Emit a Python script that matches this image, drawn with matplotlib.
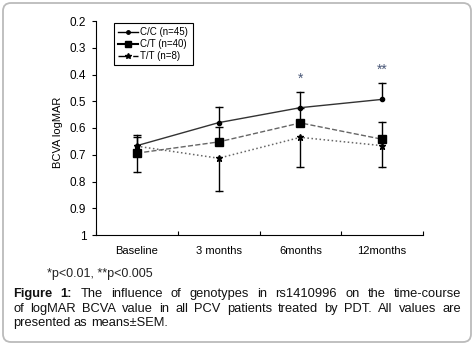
import matplotlib
matplotlib.use("Agg")
import matplotlib.pyplot as plt
from matplotlib.lines import Line2D
from matplotlib.patches import FancyBboxPatch
from matplotlib.ticker import FormatStrFormatter

plt.rcParams['font.family'] = ['Liberation Sans', 'DejaVu Sans']

# data (logMAR, smaller is better); err sign = direction of the SEM bar
times = ['Baseline', '3 months', '6months', '12months']
cc = [0.666, 0.580, 0.524, 0.493]
cc_err = [-0.040, -0.057, -0.057, -0.063]
ct = [0.694, 0.652, 0.581, 0.642]
ct_err = [0.070, -0.057, -0.057, -0.063]
tt = [0.668, 0.713, 0.635, 0.666]
tt_err = [-0.034, 0.121, 0.110, 0.081]
signif = {2: '*', 3: '**'}
signif_y = {2: 0.417, 3: 0.383}

fig = plt.figure(figsize=(4.74, 3.45), dpi=100)
ax = fig.add_axes([96/474, 1-235/345, 327/474, 214/345])

x = list(range(len(times)))


def one_sided(ax, x, y, err):
    for xi, yi, e in zip(x, y, err):
        ax.plot([xi, xi], [yi, yi + e], color='black', lw=1, zorder=2)
        ax.plot([xi], [yi + e], marker='_', ms=6, mew=1, color='black', zorder=2)


one_sided(ax, x, cc, cc_err)
one_sided(ax, x, ct, ct_err)
one_sided(ax, x, tt, tt_err)

ax.plot(x, cc, '-', color='#333333', lw=1, marker='o', ms=3, mfc='black', mec='black', zorder=3)
ax.plot(x, ct, '--', color='#666666', lw=1, marker='s', ms=5.5, mfc='black', mec='black', zorder=3)
ax.plot(x, tt, ':', color='#666666', lw=1.1, marker='*', ms=5, mfc='black', mec='black', zorder=3)

for i, s in signif.items():
    ax.text(i, signif_y[i], s, ha='center', va='center', fontsize=10, color='#4a5878')

ax.set_ylim(1.0, 0.2)
ax.set_yticks([0.2, 0.3, 0.4, 0.5, 0.6, 0.7, 0.8, 0.9, 1.0])
ax.yaxis.set_major_formatter(FormatStrFormatter('%g'))
ax.set_xlim(-0.5, 3.5)
ax.set_xticks([-0.5, 0.5, 1.5, 2.5, 3.5])
ax.set_xticklabels([])
ax.set_xticks(x, minor=True)
ax.set_xticklabels(times, minor=True, fontsize=8)
ax.tick_params(axis='x', which='major', direction='in', length=3)
ax.tick_params(axis='x', which='minor', length=0, pad=8)
ax.tick_params(axis='y', direction='out', length=3, labelsize=8.5, pad=4)
for s in ['top', 'right']:
    ax.spines[s].set_visible(False)
ax.set_ylabel('BCVA logMAR', fontsize=8)
ax.yaxis.set_label_coords(-0.101, 0.48)

handles = [
    Line2D([], [], color='black', lw=1, marker='o', ms=2.5),
    Line2D([], [], color='black', lw=1.5, marker='s', ms=4.5),
    Line2D([], [], color='black', lw=1, ls='-.', marker='*', ms=4),
]
leg = ax.legend(handles, ['C/C (n=45)', 'C/T (n=40)', 'T/T (n=8)'],
                loc='upper left', bbox_to_anchor=(18/327, 1 - 1.7/214), borderaxespad=0,
                fontsize=7, fancybox=False, edgecolor='black', framealpha=1,
                handlelength=2.0, handletextpad=0.25, labelspacing=0.2,
                borderpad=0.45)
leg.get_frame().set_linewidth(0.8)

# rounded frame round the whole figure
fig.patches.append(FancyBboxPatch((0.03, 0.03), 4.68, 3.39,
                                  boxstyle='round,pad=0,rounding_size=0.08',
                                  transform=fig.dpi_scale_trans, fill=False,
                                  edgecolor='#bbbbbb', lw=1.3))

fig.text(47/474, 1-274/345, '*p<0.01, **p<0.005', fontsize=9, va='center', color='#222222')

# justified caption
lines = [
    ['Figure', '1:', 'The', 'influence', 'of', 'genotypes', 'in', 'rs1410996', 'on', 'the', 'time-course'],
    ['of', 'logMAR', 'BCVA', 'value', 'in', 'all', 'PCV', 'patients', 'treated', 'by', 'PDT.', 'All', 'values', 'are'],
    ['presented', 'as', 'means±SEM.'],
]
line_y = [294, 309, 323]
x0, x1 = 13, 461
fig.canvas.draw()
r = fig.canvas.get_renderer()
for li, words in enumerate(lines):
    objs = []
    for wi, w in enumerate(words):
        bold = (li == 0 and wi < 2)
        t = fig.text(0, 1-line_y[li]/345, w, fontsize=9.3, va='center',
                     fontweight='bold' if bold else 'normal', color='#111111')
        objs.append(t)
    widths = [t.get_window_extent(r).width for t in objs]
    if li < len(lines) - 1:
        gap = (x1 - x0 - sum(widths)) / (len(words) - 1)
    else:
        gap = 3.5
    pos = x0
    for t, w in zip(objs, widths):
        t.set_x(pos/474)
        pos += w + gap

fig.savefig('out.png', dpi=100)
